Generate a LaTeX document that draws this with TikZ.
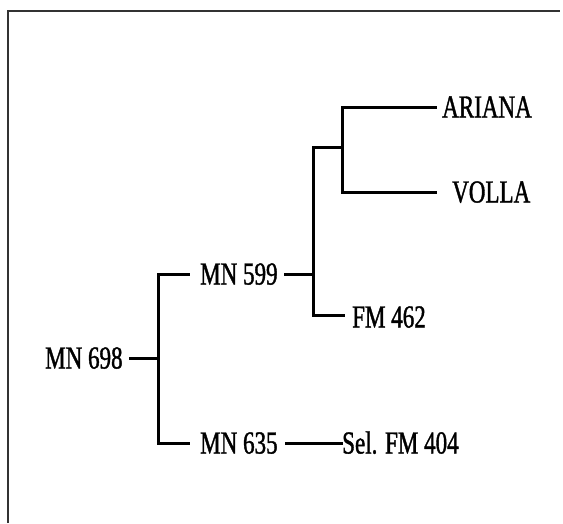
\documentclass[tikz,border=0pt]{standalone}
\usepackage{fontspec}
\setmainfont[FakeStretch=0.72,FakeBold=1.2]{Liberation Serif}
\begin{document}
\begin{tikzpicture}[x=1pt,y=-1pt,
  lbl/.style={inner sep=0pt, anchor=west, font=\fontsize{32}{32}\selectfont, text height=21pt, text depth=0pt},
  edge/.style={line width=3pt, line cap=rect},
  frame/.style={line width=2pt, draw=black!80}]
\useasboundingbox (0,0) rectangle (563,523);
\fill[white] (0,0) rectangle (563,523);
\draw[frame] (8,523) -- (8,11) -- (560,11);

\node[lbl] (mn698) at (45,358) {MN 698};
\node[lbl] (mn599) at (200,274) {MN 599};
\node[lbl] (mn635) at (200,443) {MN 635};
\node[lbl] (fm462) at (352,317) {FM 462};
\node[lbl] (ariana) at (442,107) {ARIANA};
\node[lbl] (volla) at (452,192) {VOLLA};
\node[lbl] (sel) at (342,443) {Sel. FM 404};

\coordinate (j1) at (158,358);
\coordinate (j2) at (313,274);
\coordinate (j3) at (342,147);

\draw[edge] (130,358) coordinate (a698) -- (j1);
\draw[edge] (188,274) coordinate (b599) -| (j1) |- (188,443) coordinate (b635);
\draw[edge] (285,274) coordinate (a599) -- (j2);
\draw[edge] (j3) -| (j2) |- (343,315) coordinate (bfm);
\draw[edge] (435,107) coordinate (bar) -| (342,192) -- (435,192) coordinate (bvo);
\draw[edge] (286,443) coordinate (a635) -- (341,443);
\end{tikzpicture}
\end{document}
